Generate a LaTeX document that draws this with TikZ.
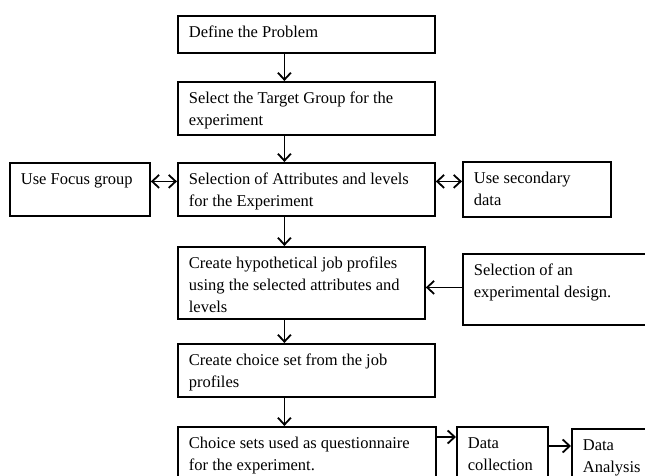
\documentclass[tikz,border=0pt]{standalone}
\usepackage{fontspec}
\setmainfont{Liberation Serif}
\usepackage{tikz}
\usetikzlibrary{arrows.meta,positioning,calc}

\tikzset{
  box/.style 2 args={draw, line width=1.8pt, anchor=north west, inner sep=0pt,
    execute at begin node={\begin{minipage}[t][#2][t]{#1}\fontsize{16.5}{22}\selectfont\raggedright\leftskip=11pt\rule{0pt}{22pt}},
    execute at end node={\end{minipage}}},
  arr/.style={-{Straight Barb[length=7pt,width=13pt]}, line width=1.8pt},
  dbl/.style={{Straight Barb[length=7pt,width=13pt]}-{Straight Barb[length=7pt,width=13pt]}, line width=1.8pt}
}

\begin{document}
\begin{tikzpicture}[x=1pt,y=-1pt]
        \useasboundingbox (0,0) rectangle (645,476);

        % Main column
        \node[box={257pt}{37pt}] (prob) at (177,15) {Define the Problem};
        \node[box={257pt}{53pt}] (target) at (177,81) {Select the Target Group for the\\experiment};
        \node[box={257pt}{53pt}] (attr) at (177,162) {Selection of Attributes and levels\\for the Experiment};
        \node[box={247pt}{72pt}] (prof) at (177,246) {Create hypothetical job profiles\\using the selected attributes and\\levels};
        \node[box={257pt}{53pt}] (choice) at (177,343) {Create choice set from the job\\profiles};
        \node[box={258pt}{66pt}] (quest) at (177,426) {Choice sets used as questionnaire\\for the experiment.};

        % Side boxes
        \node[box={140pt}{53pt}] (focus) at (9,162) {Use Focus group};
        \node[box={148pt}{55pt}] (second) at (462,161) {Use secondary\\data};
        \node[box={200pt}{71pt}] (design) at (462,253) {Selection of an\\experimental design.};
        \node[box={91pt}{66pt}] (coll) at (456,426) {Data\\collection};
        \node[box={90pt}{64pt}] (anal) at (571,428) {Data\\Analysis};

        % Arrows down the column
        \draw[arr] ([xshift=-22pt]prob.south) -- ([xshift=-22pt]target.north);
        \draw[arr] ([xshift=-22pt]target.south) -- ([xshift=-22pt]attr.north);
        \draw[arr] ([xshift=-22pt]attr.south) -- ([xshift=-22pt]attr.south |- prof.north);
        \draw[arr] ([xshift=-22pt]attr.south |- prof.south) -- ([xshift=-22pt]choice.north);
        \draw[arr] ([xshift=-22pt]choice.south) -- ([xshift=-22pt]choice.south |- quest.north);

        % Side arrows
        \draw[dbl] ([yshift=8pt]focus.east) -- ([yshift=8pt]attr.west);
        \draw[dbl] ([yshift=8pt]attr.east) -- ([yshift=8pt]attr.east -| second.west);
        \draw[arr] ([yshift=2pt]design.west) -- ([yshift=2pt]design.west -| prof.east);
        \draw[arr] ([yshift=-11pt]quest.north east) -- ([yshift=-11pt]quest.north east -| coll.west);
        \draw[arr] ([yshift=-20pt]coll.north east) -- ([yshift=-20pt]coll.north east -| anal.west);
    \end{tikzpicture}
\end{document}
